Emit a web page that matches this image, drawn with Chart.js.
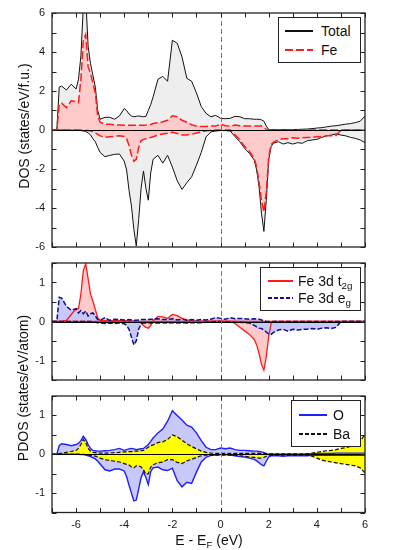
<!DOCTYPE html>
<html>
<head>
<meta charset="utf-8">
<script src="https://cdn.jsdelivr.net/npm/chart.js@4.4.1/dist/chart.umd.min.js"></script>
<style>
  body { margin: 0; background: #fff; font-family: "Liberation Sans", Arial, sans-serif; color: #111; }
  #wrap { position: relative; width: 395px; height: 550px; overflow: hidden; }
  canvas { position: absolute; left: 0; }
  .title { position: absolute; white-space: nowrap; font-size: 14px; transform: translate(-50%, -50%); }
  .title.rot { transform: translate(-50%, -50%) rotate(-90deg); }
  .legend { position: absolute; background: #fff; border: 1px solid #222; box-sizing: border-box; }
  .row { position: absolute; display: block; height: 18px; line-height: 18px; font-size: 14px; white-space: nowrap; }
  .sample { display: inline-block; }
  sub { font-size: 0.7em; vertical-align: -0.35em; line-height: 0; }
</style>
</head>
<body>
<div id="wrap">
  <canvas id="dos" width="395" height="255" style="top:0px"></canvas>
  <canvas id="fe3d" width="395" height="130" style="top:255px"></canvas>
  <canvas id="pdos" width="395" height="165" style="top:385px"></canvas>
  <div class="title rot" style="left:24px; top:126px">DOS (states/eV/f.u.)</div>
  <div class="title rot" style="left:23px; top:388px">PDOS (states/eV/atom)</div>
  <div class="title" style="left:209px; top:540px">E - E<sub>F</sub> (eV)</div>
</div>
<script>
// energy grid (eV), finer around the sharp peaks
const energy = [
  -7.0, -6.8, -6.7, -6.6, -6.4, -6.2,
  -6.0, -5.9, -5.8, -5.7, -5.6, -5.5, -5.4, -5.3, -5.2, -5.1, -5.0,
  -4.8, -4.6, -4.4, -4.2,
  -4.0, -3.9, -3.8, -3.7, -3.6, -3.5, -3.4, -3.3, -3.2, -3.1, -3.0, -2.9, -2.8,
  -2.6, -2.4, -2.2, -2.0, -1.8, -1.6, -1.4, -1.2, -1.0, -0.8, -0.6, -0.4, -0.2, 0.0, 0.2, 0.4, 0.6, 0.8, 1.0, 1.2, 1.4,
  1.5, 1.6, 1.7, 1.8, 1.9, 2.0, 2.1, 2.2,
  2.4, 2.6, 2.8, 3.0, 3.2, 3.4, 3.6, 3.8, 4.0, 4.2, 4.4, 4.6, 4.8, 5.0, 5.2, 5.4, 5.6, 5.8, 6.0
];

// panel 1: total and Fe DOS, spin up / spin down
const totalUp = [
  0, 0, 2.2, 2.25, 2.05, 2.35,
  2.1, 2.6, 3.8, 6.3, 6.8, 4.3, 3.4, 2.8, 2.2, 1.0, 0.55,
  0.65, 0.65, 0.55, 0.72,
  1.1, 1.0, 0.82, 0.72, 0.68, 0.7, 0.72, 0.7, 0.68, 0.7, 1.0, 1.3, 1.7,
  2.6, 2.75, 2.5, 4.6, 4.45, 3.75, 2.65, 2.5, 1.9, 1.2, 0.85, 0.68, 0.75, 0.6, 0.58, 0.6, 0.7, 0.68, 0.58, 0.58, 0.55,
  0.55, 0.55, 0.52, 0.45, 0.2, 0.03, 0.02, 0.02,
  0.02, 0.02, 0.02, 0.02, 0.03, 0.04, 0.05, 0.07, 0.1, 0.12, 0.16, 0.2, 0.22, 0.26, 0.3, 0.33, 0.38, 0.45, 0.72
];
const totalDn = [
  0, 0, 0, 0, 0, -0.01,
  -0.01, -0.02, -0.03, -0.05, -0.08, -0.15, -0.25, -0.45, -0.6, -0.9, -1.15,
  -1.37, -1.3, -1.25, -1.23,
  -1.6, -2.05, -3.1, -3.9, -5.1, -5.95, -4.6, -3.0, -2.1, -3.0, -3.6, -2.2, -1.5,
  -1.3, -1.7, -1.3, -1.9, -2.6, -3.05, -2.7, -2.4, -1.8, -1.15, -0.35, -0.1, -0.05, -0.03, -0.03, -0.05, -0.34, -0.6, -0.94, -1.2, -1.54,
  -2.05, -2.9, -4.27, -5.2, -3.6, -1.54, -0.85, -0.68,
  -0.6, -0.72, -0.65, -0.72, -0.65, -0.68, -0.55, -0.51, -0.48, -0.38, -0.3, -0.26, -0.2, -0.26, -0.3, -0.38, -0.43, -0.51, -0.65
];
const feUp = [
  0, 0, 1.3, 1.37, 1.15, 1.5,
  1.45, 1.4, 2.6, 4.6, 4.9, 3.25, 2.9, 2.4, 1.9, 0.7, 0.4,
  0.3, 0.3, 0.26, 0.26,
  0.25, 0.25, 0.25, 0.24, 0.24, 0.24, 0.25, 0.25, 0.24, 0.25, 0.26, 0.28, 0.33,
  0.38, 0.42, 0.5, 0.73, 0.68, 0.5, 0.4, 0.27, 0.2, 0.18, 0.18, 0.2, 0.2, 0.3, 0.22, 0.2, 0.25, 0.22, 0.2, 0.2, 0.2,
  0.2, 0.2, 0.2, 0.15, 0.03, 0, 0, 0,
  0, 0, 0, 0, 0, 0, 0, 0, 0, 0, 0, 0, 0, 0, 0, 0, 0, 0, 0
];
const feDn = [
  0, 0, 0, 0, 0, 0,
  0, 0, 0, 0, -0.02, -0.03, -0.05, -0.1, -0.15, -0.22, -0.3,
  -0.38, -0.35, -0.32, -0.3,
  -0.33, -0.45, -0.8, -1.3, -1.6, -1.5, -0.9, -0.55, -0.48, -0.45, -0.42, -0.38, -0.35,
  -0.25, -0.2, -0.17, -0.12, -0.18, -0.25, -0.25, -0.22, -0.15, -0.1, -0.04, -0.02, 0, 0, 0, 0, -0.25, -0.5, -0.85, -1.1, -1.45,
  -1.9, -2.7, -3.6, -4.2, -3.2, -1.4, -0.75, -0.62,
  -0.5, -0.45, -0.45, -0.4, -0.42, -0.4, -0.38, -0.38, -0.35, -0.35, -0.3, -0.3, -0.28, 0, 0, 0, 0, 0, 0
];

// panel 2: Fe 3d t2g and eg
const t2gUp = [
  0, 0, 0, 0, 0.03, 0.18,
  0.33, 0.33, 0.7, 1.3, 1.48, 1.1, 0.7, 0.52, 0.3, 0.1, 0.03,
  0.02, 0.02, 0.02, 0.02,
  0.02, 0.02, 0.02, 0.01, 0.01, 0, 0, -0.04, -0.1, -0.15, -0.17, -0.1, 0.02,
  0.13, 0.12, 0.08, 0.18, 0.15, 0.08, 0.04, 0.02, 0.01, 0.01, 0.01, 0.01, 0.01, 0.01, 0.01, 0.01, 0.01, 0, 0, 0, 0,
  0, 0, 0, 0, 0, 0, 0, 0,
  0, 0, 0, 0, 0, 0, 0, 0, 0, 0, 0, 0, 0, 0, 0, 0, 0, 0, 0
];
const t2gDn = [
  0, 0, 0, 0, 0, 0,
  0, 0, 0, 0, 0, 0, 0, 0, 0, 0, 0,
  0, 0, 0, 0,
  0, 0, 0, 0, 0, 0, 0, 0, 0, 0, 0, 0, 0,
  0, 0, 0, 0, 0, 0, 0, 0, 0, 0, 0, 0, 0, 0, 0, 0, -0.05, -0.15, -0.24, -0.33, -0.46,
  -0.6, -0.82, -1.1, -1.25, -0.9, -0.38, -0.05, 0,
  0, 0, 0, 0, 0, 0, 0, 0, 0, 0, 0, 0, 0, 0, 0, 0, 0, 0, 0
];
const egUp = [
  0, 0, 0.62, 0.6, 0.39, 0.29,
  0.33, 0.22, 0.28, 0.2, 0.27, 0.14, 0.2, 0.22, 0.14, 0.05, 0.03,
  0.1, 0.03, 0.06, 0.05,
  0.04, 0.04, 0.05, 0.04, 0.03, 0.03, 0.04, 0.05, 0.05, 0.05, 0.05, 0.06, 0.06,
  0.07, 0.05, 0.05, 0.07, 0.04, 0.06, 0.03, 0.05, 0.03, 0.05, 0.04, 0.06, 0.1, 0.08, 0.06, 0.1, 0.07, 0.08, 0.07, 0.06, 0.07,
  0.06, 0.06, 0.04, 0.02, 0, 0, 0, 0,
  0, 0, 0, 0, 0, 0, 0, 0, 0, 0, 0, 0, 0, 0, 0, 0, 0, 0, 0
];
const egDn = [
  0, 0, 0, 0, 0, 0,
  0, 0, 0, 0, 0, 0, 0, -0.01, -0.02, -0.03, -0.04,
  -0.05, -0.04, -0.05, -0.04,
  -0.06, -0.1, -0.2, -0.4, -0.6, -0.5, -0.2, -0.06, -0.04, -0.04, -0.03, -0.04, -0.04,
  -0.04, -0.03, -0.04, -0.03, -0.04, -0.03, -0.04, -0.03, -0.03, -0.03, -0.02, -0.01, 0, 0, -0.01, -0.02, -0.02, -0.02, -0.03, -0.04, -0.1,
  -0.14, -0.17, -0.18, -0.22, -0.27, -0.32, -0.33, -0.28,
  -0.22, -0.2, -0.25, -0.2, -0.22, -0.2, -0.2, -0.18, -0.2, -0.17, -0.16, -0.18, -0.15, 0, 0, 0, 0, 0, 0
];

// panel 3: O and Ba
const oUp = [
  0, 0, 0.22, 0.27, 0.25, 0.22,
  0.25, 0.28, 0.35, 0.46, 0.38, 0.25, 0.15, 0.1, 0.09, 0.08, 0.08,
  0.09, 0.1, 0.12, 0.15,
  0.1, 0.12, 0.14, 0.15, 0.14, 0.12, 0.13, 0.14, 0.15, 0.2, 0.25, 0.33, 0.42,
  0.55, 0.65, 0.85, 1.12, 1.0, 0.88, 0.75, 0.7, 0.55, 0.35, 0.18, 0.12, 0.12, 0.16, 0.14, 0.16, 0.12, 0.1, 0.1, 0.09, 0.08,
  0.08, 0.07, 0.06, 0.04, 0.01, 0, 0, 0,
  0, 0, 0, 0, 0, 0, 0.01, 0.01, 0.02, 0.02, 0.02, 0.02, 0.03, 0.03, 0.03, 0.03, 0.03, 0.03, 0.03
];
const oDn = [
  0, 0, 0, 0, 0, 0,
  0, 0, -0.01, -0.01, -0.02, -0.04, -0.06, -0.09, -0.12, -0.18, -0.25,
  -0.4, -0.43, -0.38, -0.38,
  -0.43, -0.58, -0.8, -1.0, -1.2, -1.18, -0.9, -0.6, -0.45, -0.6, -0.78, -0.45, -0.35,
  -0.33, -0.4, -0.42, -0.36, -0.68, -0.84, -0.72, -0.75, -0.46, -0.2, -0.08, -0.03, -0.02, -0.01, -0.01, -0.02, -0.04, -0.06, -0.07, -0.1, -0.13,
  -0.17, -0.22, -0.27, -0.3, -0.18, -0.07, -0.04, -0.04,
  -0.04, -0.05, -0.04, -0.04, -0.04, -0.04, -0.04, -0.03, -0.03, -0.03, -0.03, -0.03, -0.03, -0.03, -0.03, -0.03, -0.03, -0.03, -0.03
];
const baUp = [
  0, 0, 0.02, 0.03, 0.05, 0.07,
  0.1, 0.15, 0.25, 0.38, 0.3, 0.15, 0.08, 0.05, 0.04, 0.03, 0.03,
  0.03, 0.03, 0.04, 0.05,
  0.06, 0.06, 0.07, 0.07, 0.08, 0.08, 0.08, 0.09, 0.1, 0.14, 0.18, 0.22, 0.24,
  0.3, 0.32, 0.38, 0.5, 0.45, 0.36, 0.27, 0.2, 0.14, 0.08, 0.05, 0.03, 0.02, 0.02, 0.02, 0.02, 0.02, 0.02, 0.02, 0.02, 0.02,
  0.02, 0.02, 0.02, 0.02, 0.02, 0.01, 0.01, 0.01,
  0.01, 0.01, 0.01, 0.01, 0.01, 0.01, 0.01, 0.03, 0.05, 0.07, 0.09, 0.1, 0.12, 0.15, 0.17, 0.2, 0.22, 0.33, 0.52
];
const baDn = [
  0, 0, 0, 0, 0, 0,
  0, 0, 0, 0, -0.01, -0.02, -0.03, -0.04, -0.05, -0.07, -0.1,
  -0.14, -0.16, -0.18, -0.2,
  -0.24, -0.26, -0.28, -0.33, -0.35, -0.3, -0.3, -0.33, -0.4, -0.52, -0.5, -0.33, -0.27,
  -0.22, -0.2, -0.14, -0.14, -0.21, -0.24, -0.17, -0.13, -0.08, -0.04, -0.02, -0.02, -0.02, -0.02, -0.02, -0.02, -0.03, -0.04, -0.05, -0.07, -0.08,
  -0.09, -0.1, -0.1, -0.08, -0.05, -0.03, -0.02, -0.02,
  -0.02, -0.02, -0.02, -0.02, -0.02, -0.02, -0.02, -0.05, -0.1, -0.15, -0.18, -0.2, -0.22, -0.24, -0.26, -0.28, -0.3, -0.35, -0.48
];

Chart.defaults.font.family = '"Liberation Sans", Arial, sans-serif';
Chart.defaults.color = '#1a1a1a';

// frame, inside ticks, zero line and dashed Fermi level
const axesFrame = {
  id: 'axesFrame',
  afterDatasetsDraw(chart, args, opts) {
    const { ctx, chartArea: a } = chart;
    const x = chart.scales.x, y = chart.scales.y;
    const seg = (x1, y1, x2, y2) => { ctx.beginPath(); ctx.moveTo(x1, y1); ctx.lineTo(x2, y2); ctx.stroke(); };
    ctx.save();
    ctx.lineWidth = 1;
    ctx.strokeStyle = '#000';
    const y0 = Math.round(y.getPixelForValue(0)) + 0.5;
    seg(a.left, y0, a.right, y0);
    const x0 = Math.round(x.getPixelForValue(0)) + 0.5;
    ctx.strokeStyle = '#7a7a7a';
    ctx.setLineDash([5, 3]);
    seg(x0, a.top, x0, a.bottom);
    ctx.setLineDash([]);
    ctx.strokeStyle = '#222';
    const t = 4.5;
    for (let v = x.min; v <= x.max + 1e-6; v += opts.xStep) {
      const px = Math.round(x.getPixelForValue(v)) + 0.5;
      seg(px, a.top, px, a.top + t);
      seg(px, a.bottom, px, a.bottom - t);
    }
    for (let v = y.min; v <= y.max + 1e-6; v += opts.yStep) {
      const py = Math.round(y.getPixelForValue(v)) + 0.5;
      seg(a.left, py, a.left + t, py);
      seg(a.right, py, a.right - t, py);
    }
    ctx.lineWidth = 1.3;
    ctx.strokeRect(a.left, a.top, a.right - a.left, a.bottom - a.top);
    ctx.restore();
  }
};

function series(ys, color, fillColor, dash, width) {
  return {
    data: energy.map((e, i) => ({ x: e, y: ys[i] })),
    borderColor: color,
    backgroundColor: fillColor,
    fill: 'origin',
    borderDash: dash,
    borderWidth: width,
    pointRadius: 0,
    tension: 0
  };
}

function panel(id, datasets, lim, yStep, pad, showX) {
  return new Chart(document.getElementById(id), {
    type: 'line',
    data: { datasets: datasets },
    plugins: [axesFrame],
    options: {
      responsive: false,
      animation: false,
      events: [],
      layout: { padding: pad },
      scales: {
        x: {
          type: 'linear', min: -7, max: 6,
          display: showX,
          afterFit: s => {
            if (showX) s.height = 37.5;
            s.paddingLeft = 0; s.paddingRight = 0;
          },
          grid: { display: false, drawTicks: false },
          border: { display: false },
          ticks: {
            stepSize: 1, autoSkip: false, maxRotation: 0, padding: 6,
            font: { size: 11 },
            callback: v => (v % 2 === 0 ? v : '')
          }
        },
        y: {
          min: -lim, max: lim,
          afterFit: s => { s.width = 52; s.paddingTop = 0; s.paddingBottom = 0; },
          grid: { display: false, drawTicks: false },
          border: { display: false },
          ticks: {
            stepSize: yStep, padding: 7, autoSkip: false,
            font: { size: 11 },
            callback: v => (Number.isInteger(v) && (yStep < 1 || v % 2 === 0) ? v : '')
          }
        }
      },
      plugins: {
        legend: { display: false },
        tooltip: { enabled: false },
        filler: { drawTime: 'beforeDatasetsDraw' },
        axesFrame: { xStep: 1, yStep: yStep }
      }
    }
  });
}

const red = '#ff1a1a', pink = '#ffcaca', gray = '#eeeeee';
const navy = '#10108a', lav = '#c8c8fa', blue = '#1f1fff', yellow = '#ffff00';

panel('dos', [
  series(feUp, red, pink, [8, 3], 1.5),
  series(feDn, red, pink, [8, 3], 1.5),
  series(totalUp, '#111', gray, [], 1),
  series(totalDn, '#111', gray, [], 1)
], 6, 1, { top: 13, right: 30, bottom: 8, left: 0 }, false);

panel('fe3d', [
  series(egUp, navy, lav, [5, 2], 1.5),
  series(egDn, navy, lav, [5, 2], 1.5),
  series(t2gUp, red, pink, [], 1.3),
  series(t2gDn, red, pink, [], 1.3)
], 1.5, 0.5, { top: 8, right: 30, bottom: 5, left: 0 }, false);

panel('pdos', [
  series(baUp, '#111', yellow, [4, 2], 1.2),
  series(baDn, '#111', yellow, [4, 2], 1.2),
  series(oUp, blue, lav, [], 1.4),
  series(oDn, blue, lav, [], 1.4)
], 1.5, 0.5, { top: 11, right: 30, bottom: 0, left: 0 }, true);

// legends
const wrap = document.getElementById('wrap');
function legend(box, sampleX, sampleW, textX, rows) {
  const b = document.createElement('div');
  b.className = 'legend';
  Object.assign(b.style, { left: box[0] + 'px', top: box[1] + 'px', width: box[2] + 'px', height: box[3] + 'px' });
  wrap.appendChild(b);
  rows.forEach(r => {
    const s = document.createElement('div');
    s.className = 'sample';
    Object.assign(s.style, { position: 'absolute', left: sampleX + 'px', top: (r.y - r.h / 2) + 'px', width: sampleW + 'px', height: r.h + 'px', background: r.bg });
    wrap.appendChild(s);
    const t = document.createElement('div');
    t.className = 'row';
    t.style.left = textX + 'px';
    t.style.top = (r.y - 9) + 'px';
    t.innerHTML = r.label;
    wrap.appendChild(t);
  });
}
const dashes = (c, on, off) => 'repeating-linear-gradient(90deg,' + c + ' 0 ' + on + 'px, transparent ' + on + 'px ' + (on + off) + 'px)';

legend([278, 17, 83, 46], 285, 28, 321, [
  { label: 'Total', y: 31, h: 1.2, bg: '#111' },
  { label: 'Fe', y: 50, h: 2, bg: dashes(red, 8, 3) }
]);
legend([260, 267, 101, 44], 268, 25, 298, [
  { label: 'Fe 3d t<sub>2g</sub>', y: 281, h: 1.6, bg: red },
  { label: 'Fe 3d e<sub>g</sub>', y: 298, h: 2, bg: dashes(navy, 4, 2) }
]);
legend([291, 400, 70, 47], 299, 28, 333, [
  { label: 'O', y: 415, h: 1.8, bg: blue },
  { label: 'Ba', y: 434, h: 1.6, bg: dashes('#111', 4, 2) }
]);
</script>
</body>
</html>
